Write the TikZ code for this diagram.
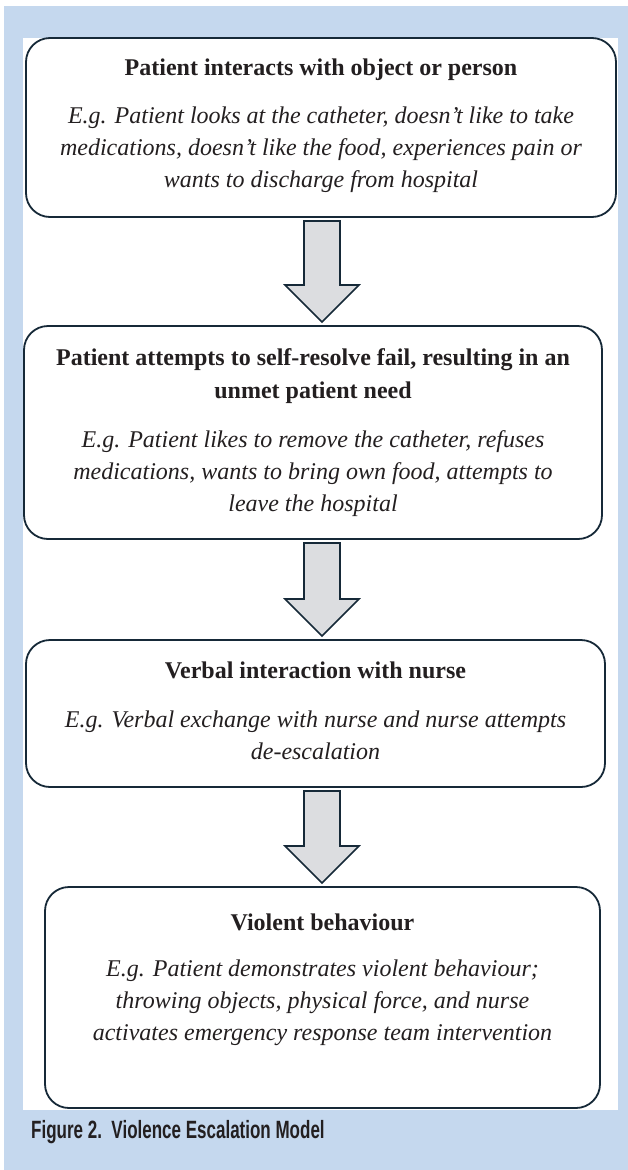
\documentclass[tikz,border=0pt]{standalone}
\usepackage{fontspec}
\setmainfont{Liberation Serif}
\newfontfamily\captionfont[FakeStretch=0.68]{Liberation Sans}
\usetikzlibrary{calc}
\definecolor{panelblue}{RGB}{197,216,238}
\definecolor{edgenavy}{RGB}{22,41,56}
\definecolor{arrowgrey}{RGB}{220,221,224}
\definecolor{inkgrey}{RGB}{35,31,32}

\newcommand{\stagearrow}[2]{%
  \draw[blockarrow] ($(#1.south -| ax)+(-18,4)$) -- ($(#1.south -| ax)+(18,4)$)
    -- ($(#2.north -| ax)+(18,-41)$) -- ($(#2.north -| ax)+(37,-41)$)
    -- ($(#2.north -| ax)+(0,-4)$) -- ($(#2.north -| ax)+(-37,-41)$)
    -- ($(#2.north -| ax)+(-18,-41)$) -- cycle;}

\begin{document}
\begin{tikzpicture}[x=1pt, y=-1pt,
    stagebox/.style={draw=edgenavy, line width=1.8pt, fill=white, rounded corners=24pt, inner sep=0pt, outer sep=0pt},
    stagetitle/.style={font=\fontsize{24}{33}\selectfont\bfseries, text=inkgrey, align=center},
    stagetext/.style={font=\fontsize{24}{32}\selectfont\itshape, text=inkgrey, align=center},
    blockarrow/.style={draw=edgenavy, line width=1.6pt, fill=arrowgrey, line join=miter}]

    \useasboundingbox (0,0) rectangle (628,1170);
    \fill[white] (0,0) rectangle (628,1170);
    \fill[panelblue] (4,6) rectangle (628,1170);
    \fill[white] (23,38) rectangle (618,1110);
    \coordinate (ax) at (322,0);

    \node[stagebox, minimum width=590, minimum height=179] (contact) at (321,127.5) {};
    \node[stagetitle] (contacttitle) at (321,70) {Patient interacts with object or person};
    \node[stagetext] (contacttext) at (321,150) {E.g. Patient looks at the catheter, doesn’t like to take\\
        medications, doesn’t like the food, experiences pain or\\
        wants to discharge from hospital};

    \node[stagebox, minimum width=578, minimum height=213] (unmet) at (313,432.5) {};
    \node[stagetitle] (unmettitle) at (313,376.5) {Patient attempts to self-resolve fail, resulting in an\\
        unmet patient need};
    \node[stagetext] (unmettext) at (313,474) {E.g. Patient likes to remove the catheter, refuses\\
        medications, wants to bring own food, attempts to\\
        leave the hospital};

    \node[stagebox, minimum width=579, minimum height=147] (verbal) at (315.5,713.5) {};
    \node[stagetitle] (verbaltitle) at (315.5,670) {Verbal interaction with nurse};
    \node[stagetext] (verbaltext) at (315.5,735) {E.g. Verbal exchange with nurse and nurse attempts\\
        de-escalation};

    \node[stagebox, minimum width=555, minimum height=221] (violent) at (322.5,997.5) {};
    \node[stagetitle] (violenttitle) at (322.5,922) {Violent behaviour};
    \node[stagetext] (violenttext) at (322.5,1002.5) {E.g. Patient demonstrates violent behaviour;\\
        throwing objects, physical force, and nurse\\
        activates emergency response team intervention};

    \stagearrow{contact}{unmet}
    \stagearrow{unmet}{verbal}
    \stagearrow{verbal}{violent}

    \node[anchor=west, inner sep=0pt, text=inkgrey, font=\captionfont\bfseries\fontsize{25}{29}\selectfont] (caption) at (31,1132) {Figure 2.\ \ Violence Escalation Model};

\end{tikzpicture}
\end{document}
